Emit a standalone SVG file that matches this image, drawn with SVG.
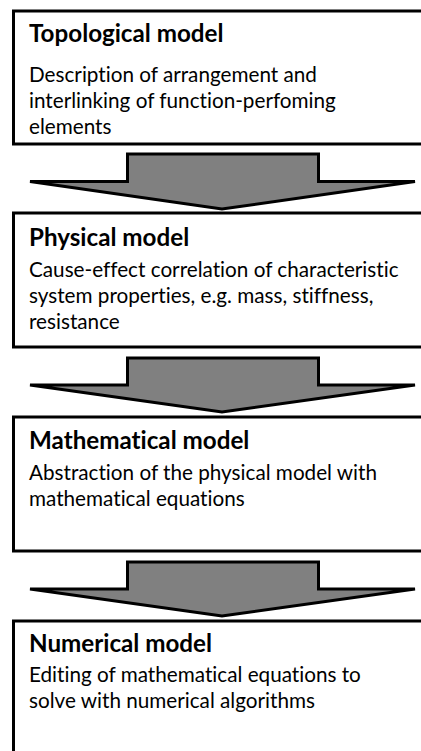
<svg xmlns="http://www.w3.org/2000/svg" width="421" height="751" viewBox="0 0 421 751">
<style>
.box{fill:#fff;stroke:#000;stroke-width:3}
.arrow{fill:#808080;stroke:#000;stroke-width:3;stroke-linejoin:miter}
text{font-variant-ligatures:none;font-feature-settings:"liga" 0,"dlig" 0}
.title{font-family:Lato,"Liberation Sans",sans-serif;font-weight:bold;font-size:24.2px;fill:#000}
.body{font-family:Lato,"Liberation Sans",sans-serif;font-size:20.7px;fill:#000}
</style>
<rect width="421" height="751" fill="#fff"/>
<g id="connectors">
<polygon class="arrow" points="30,181.5 127.5,181.5 127.5,154 318.5,154 318.5,181.5 415,181.5 222,209"/>
<polygon class="arrow" points="30,385 127.5,385 127.5,358 318.5,358 318.5,385 415,385 222,412"/>
<polygon class="arrow" points="30,589 127.5,589 127.5,562 318.5,562 318.5,589 415,589 222,616"/>
</g>
<g id="topological">
<rect class="box" x="13.5" y="11" width="420" height="133"/>
<text class="title" x="29" y="41.7">Topological model</text>
<text class="body" x="29" y="81.5">Description of arrangement and</text>
<text class="body" x="29" y="107.5">interlinking of function-perfoming</text>
<text class="body" x="29" y="133.5">elements</text>
</g>
<g id="physical">
<rect class="box" x="13.5" y="213" width="420" height="134"/>
<text class="title" x="29" y="246">Physical model</text>
<text class="body" x="29" y="276.5">Cause-effect correlation of characteristic</text>
<text class="body" x="29" y="302.5">system properties, e.g. mass, stiffness,</text>
<text class="body" x="29" y="328.5">resistance</text>
</g>
<g id="mathematical">
<rect class="box" x="13.5" y="417" width="420" height="134"/>
<text class="title" x="29" y="449">Mathematical model</text>
<text class="body" x="29" y="479.5">Abstraction of the physical model with</text>
<text class="body" x="29" y="505.5">mathematical equations</text>
</g>
<g id="numerical">
<rect class="box" x="13.5" y="621" width="420" height="140"/>
<text class="title" x="29" y="652">Numerical model</text>
<text class="body" x="29" y="682">Editing of mathematical equations to</text>
<text class="body" x="29" y="708">solve with numerical algorithms</text>
</g>
</svg>
